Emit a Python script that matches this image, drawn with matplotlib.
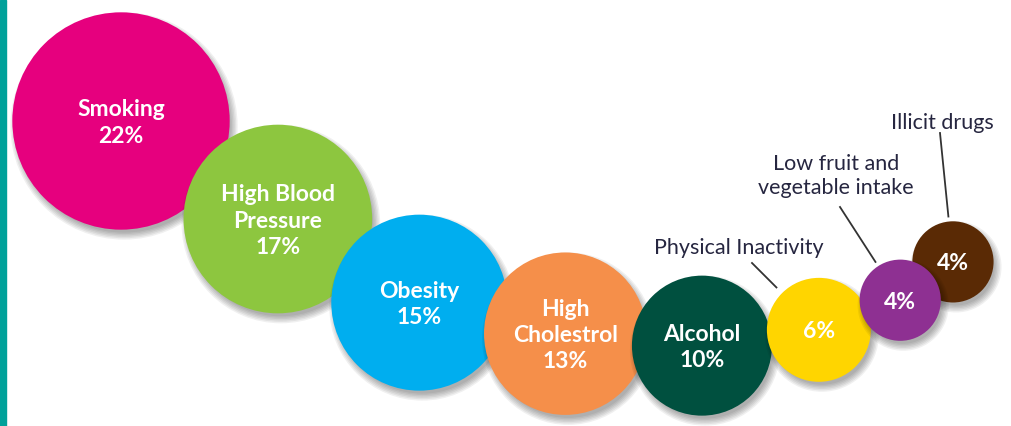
import numpy as np
import matplotlib
matplotlib.use("Agg")
import matplotlib.pyplot as plt
from matplotlib.patches import Circle, Rectangle

# ---- data ----
categories = ["Smoking", "High Blood\nPressure", "Obesity", "High\nCholestrol",
              "Alcohol", "Physical Inactivity", "Low fruit and\nvegetable intake",
              "Illicit drugs"]
values = [22, 17, 15, 13, 10, 6, 4, 4]
label_inside = [True, True, True, True, True, False, False, False]

# ---- style / layout ----
colors = ["#E6007E", "#8DC63F", "#00AEEF", "#F58F4A", "#00503F",
          "#FFD500", "#8E3092", "#5A2A05"]
zorders = [1, 2, 3, 4, 5, 6, 8, 7]
start = (121, 121)
step_angles = [32, 30.6, 12, 5, -7.7, -20, -36]      # direction to next bubble (deg)
step_overlaps = [18, 18, 20, 14, 4, 6, 16]           # overlap between neighbours (px)
outer_text_pos = {5: (739, 248), 6: (836, 176), 7: (942, 123)}
leader_start = {5: (752, 263), 6: (840, 207), 7: (940, 133)}
leader_gap = {5: 8, 6: 5, 7: 5}

font = ["Lato", "DejaVu Sans"]
plt.rcParams["font.family"] = font


def radius(v):
    return -10 + 25.3 * np.sqrt(v)


radii = [radius(v) for v in values]
centers = [np.array(start, dtype=float)]
for i, (a, o) in enumerate(zip(step_angles, step_overlaps)):
    d = radii[i] + radii[i + 1] - o
    t = np.deg2rad(a)
    centers.append(centers[-1] + d * np.array([np.cos(t), np.sin(t)]))

fig = plt.figure(figsize=(10.12, 4.26), dpi=100)
ax = fig.add_axes([0, 0, 1, 1])
ax.set_xlim(0, 1012)
ax.set_ylim(426, 0)
ax.axis("off")

# teal edge bar
ax.add_patch(Rectangle((0, 0), 6, 426, color="#00A19A", zorder=20))

for i, (c, r, col, z) in enumerate(zip(centers, radii, colors, zorders)):
    # soft drop shadow
    for k in range(6):
        ax.add_patch(Circle((c[0] + 3, c[1] + 5), r - 2 + k * 1.4,
                            color="black", alpha=0.06, lw=0, zorder=z - 0.5))
    ax.add_patch(Circle(tuple(c), r, color=col, lw=0, zorder=z))
    pct = f"{values[i]}%"
    txt = f"{categories[i]}\n{pct}" if label_inside[i] else pct
    ax.text(c[0], c[1] + 2, txt, ha="center", va="center", color="white",
            fontsize=16.5, fontweight="bold", linespacing=1.3, zorder=z + 0.1)
    if not label_inside[i]:
        tx, ty = outer_text_pos[i]
        ax.text(tx, ty, categories[i], ha="center", va="center", color="#262640",
                fontsize=15.5, linespacing=1.2, zorder=30)
        s = np.array(leader_start[i], dtype=float)
        u = (s - c) / np.linalg.norm(s - c)
        e = c + (r + leader_gap[i]) * u
        ax.plot([s[0], e[0]], [s[1], e[1]], color="#333333", lw=1.3, zorder=30)

fig.savefig("out.png", dpi=100)
